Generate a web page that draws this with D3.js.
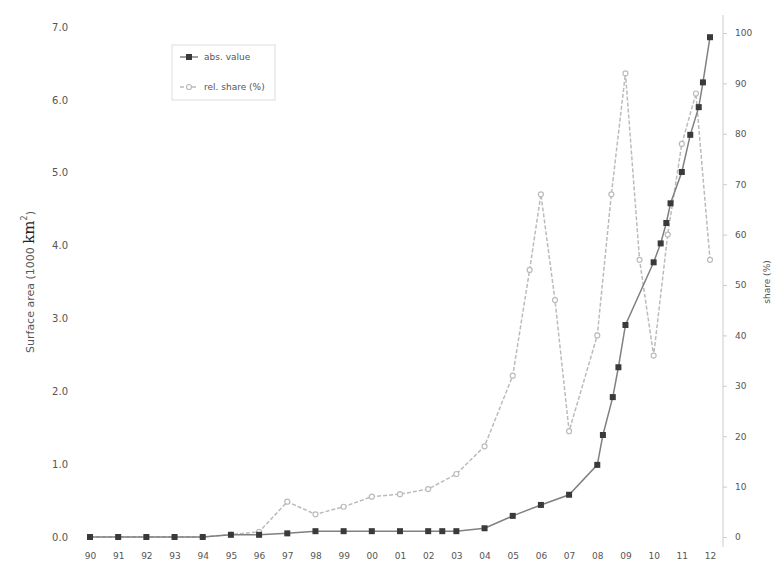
<!DOCTYPE html>
<html>
<head>
<meta charset="utf-8">
<script src="https://cdn.jsdelivr.net/npm/d3@7"></script>
<style>
  body { margin: 0; background: #fff; }
  svg { display: block; }
</style>
</head>
<body>
<svg id="chart" width="775" height="567"></svg>
<script>
// year tick labels on the x axis
let yearTicks = d3.range(1990, 2013)

// absolute series (left axis), [year, value]
let absYears  = [1990, 1991, 1992, 1993, 1994, 1995, 1996, 1997, 1998, 1999, 2000, 2001, 2002, 2002.5, 2003, 2004, 2005, 2006, 2007, 2008, 2008.2, 2008.55, 2008.75, 2009, 2010, 2010.25, 2010.45, 2010.6, 2011, 2011.3, 2011.6, 2011.75, 2012]
let absValues = [0, 0, 0, 0, 0, 0.03, 0.03, 0.05, 0.08, 0.08, 0.08, 0.08, 0.08, 0.08, 0.08, 0.12, 0.29, 0.44, 0.58, 0.99, 1.40, 1.92, 2.33, 2.91, 3.77, 4.03, 4.31, 4.58, 5.01, 5.52, 5.90, 6.24, 6.86]

// relative series (right axis, %)
let relYears  = [1990, 1991, 1992, 1993, 1994, 1995, 1996, 1997, 1998, 1999, 2000, 2001, 2002, 2003, 2004, 2005, 2005.6, 2006, 2006.5, 2007, 2008, 2008.5, 2009, 2009.5, 2010, 2010.5, 2011, 2011.5, 2012]
let relValues = [0, 0, 0, 0, 0, 0.5, 1, 7, 4.5, 6, 8, 8.5, 9.5, 12.5, 18, 32, 53, 68, 47, 21, 40, 68, 92, 55, 36, 60, 78, 88, 55]

let leftTicks = d3.range(0, 8)
let rightTicks = d3.range(0, 101, 10)

let legendLabels = ["abs. value", "rel. share (%)"]

let darkColor = "#3a3a3a"
let lineColor = "#808080"
let lightColor = "#bbb"
let textColor = "#555"

let svg = d3.select("#chart")

let x = d3.scaleLinear()
  .domain([1990, 2012])
  .range([90, 710])

let yLeft = d3.scaleLinear()
  .domain([0, 7])
  .range([537, 27])

let yRight = d3.scaleLinear()
  .domain([0, 100])
  .range([537, 33])

let absData = absYears.map((d, i) => [d, absValues[i]])
let relData = relYears.map((d, i) => [d, relValues[i]])

// right axis
let rAxis = svg.append("g")
  .attr("transform", "translate(723,0)")
  .call(d3.axisRight(yRight).tickValues(rightTicks).tickSize(4).tickPadding(8))
rAxis.select(".domain").attr("stroke", "#ccc").attr("d", "M0,15V547")
rAxis.selectAll(".tick line").attr("stroke", "#ccc")
rAxis.selectAll("text")
  .style("font-family", "DejaVu Sans")
  .style("font-size", "9px")
  .style("fill", textColor)

// left axis
let lAxis = svg.append("g")
  .attr("transform", "translate(74,0)")
  .call(d3.axisLeft(yLeft).tickValues(leftTicks).tickSize(0).tickPadding(6))
lAxis.select(".domain").remove()
lAxis.selectAll("text")
  .style("font-family", "DejaVu Sans")
  .style("font-size", "10px")
  .style("fill", textColor)

// bottom axis
let bAxis = svg.append("g")
  .attr("transform", "translate(0,550)")
  .call(d3.axisBottom(x).tickValues(yearTicks).tickSize(0).tickPadding(3)
    .tickFormat(d => String(d).slice(2)))
bAxis.select(".domain").remove()
bAxis.selectAll("text")
  .style("font-family", "DejaVu Sans")
  .style("font-size", "9px")
  .style("fill", textColor)

// axis titles
let lTitle = svg.append("text")
  .attr("transform", "translate(34,282) rotate(-90)")
  .style("text-anchor", "middle")
  .style("font-family", "DejaVu Sans")
  .style("font-size", "11px")
  .style("fill", textColor)
lTitle.append("tspan").text("Surface area (1000 ")
lTitle.append("tspan").text("km").style("font-family", "DejaVu Serif").style("font-size", "15px").style("fill", "#222")
lTitle.append("tspan").text("2").attr("dy", -7).style("font-size", "8px")
lTitle.append("tspan").text(")").attr("dy", 7)

svg.append("text")
  .attr("transform", "translate(770,282) rotate(-90)")
  .style("text-anchor", "middle")
  .style("font-family", "DejaVu Sans")
  .style("font-size", "9px")
  .style("fill", textColor)
  .text("share (%)")

// relative series
svg.append("path")
  .datum(relData)
  .attr("fill", "none")
  .attr("stroke", lightColor)
  .attr("stroke-width", 1.5)
  .attr("stroke-dasharray", "4,2")
  .attr("d", d3.line().x(d => x(d[0])).y(d => yRight(d[1])))

svg.append("g")
  .selectAll("circle")
  .data(relData)
  .enter()
  .append("circle")
  .attr("cx", d => x(d[0]))
  .attr("cy", d => yRight(d[1]))
  .attr("r", 2.5)
  .style("fill", "#fff")
  .style("stroke", lightColor)
  .style("stroke-width", 1.2)

// absolute series
svg.append("path")
  .datum(absData)
  .attr("fill", "none")
  .attr("stroke", lineColor)
  .attr("stroke-width", 1.5)
  .attr("d", d3.line().x(d => x(d[0])).y(d => yLeft(d[1])))

svg.append("g")
  .selectAll("rect")
  .data(absData)
  .enter()
  .append("rect")
  .attr("x", d => x(d[0]) - 3)
  .attr("y", d => yLeft(d[1]) - 3)
  .attr("width", 6)
  .attr("height", 6)
  .style("fill", darkColor)

// legend
let legend = svg.append("g").attr("transform", "translate(172,45)")
legend.append("rect")
  .attr("width", 103)
  .attr("height", 55)
  .style("fill", "#fff")
  .style("stroke", "#ddd")

legend.append("line")
  .attr("x1", 8).attr("x2", 26).attr("y1", 12).attr("y2", 12)
  .style("stroke", lineColor).style("stroke-width", 1.5)
legend.append("rect")
  .attr("x", 14).attr("y", 9).attr("width", 6).attr("height", 6)
  .style("fill", darkColor)

legend.append("line")
  .attr("x1", 8).attr("x2", 26).attr("y1", 42).attr("y2", 42)
  .style("stroke", lightColor).style("stroke-width", 1.5)
  .style("stroke-dasharray", "4,2")
legend.append("circle")
  .attr("cx", 17).attr("cy", 42).attr("r", 2.5)
  .style("fill", "#fff").style("stroke", lightColor).style("stroke-width", 1.2)

legend.selectAll(".legend_label")
  .data(legendLabels)
  .enter()
  .append("text")
  .attr("class", "legend_label")
  .attr("x", 32)
  .attr("y", (d, i) => 15 + i * 30)
  .text(d => d)
  .style("font-family", "DejaVu Sans")
  .style("font-size", "9px")
  .style("fill", textColor)
</script>
</body>
</html>
